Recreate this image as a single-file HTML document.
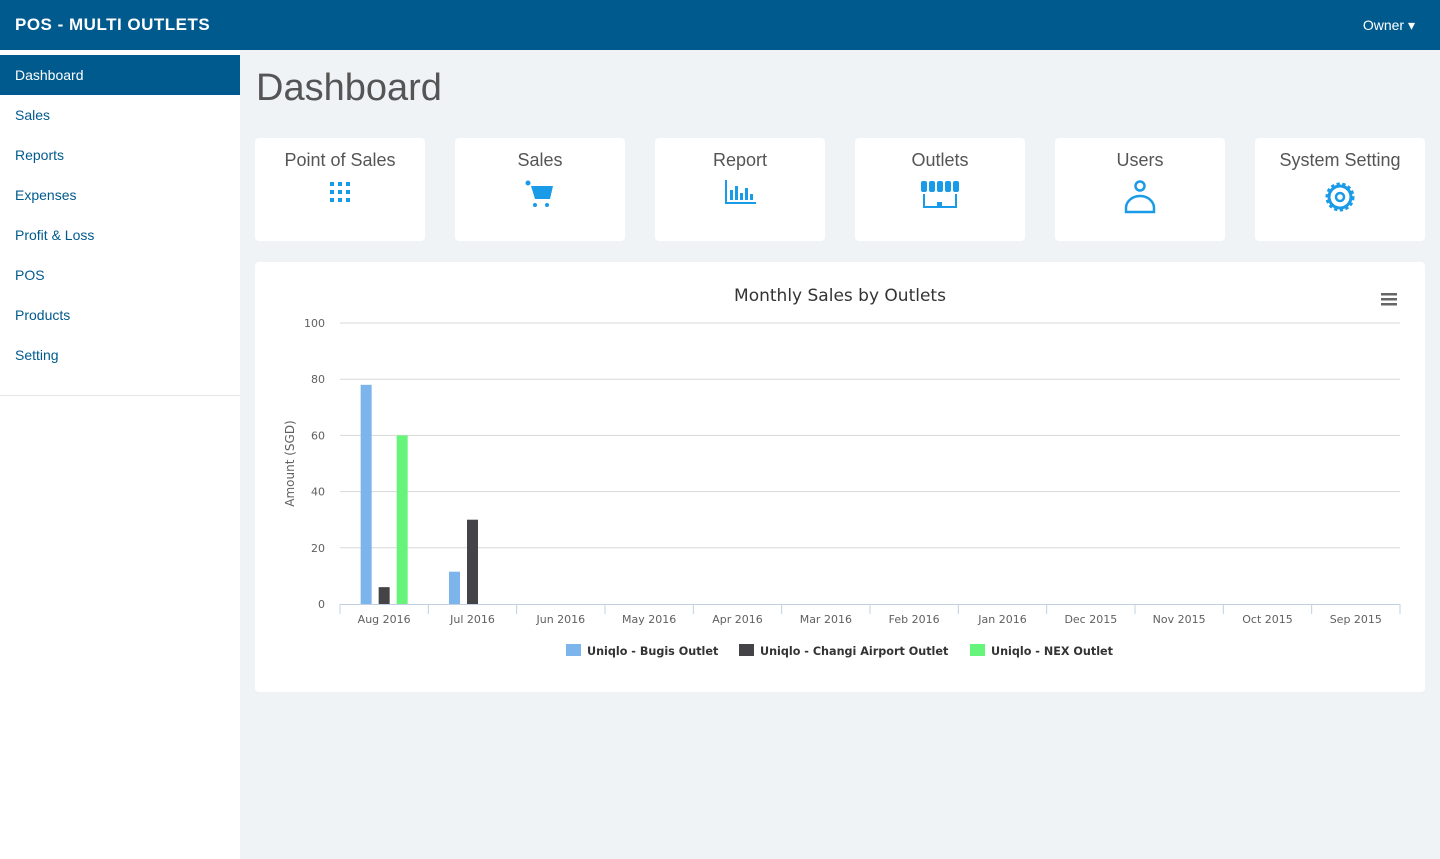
<!DOCTYPE html>
<html><head><meta charset="utf-8"><style>
*{box-sizing:border-box;margin:0;padding:0}
body{width:1440px;height:859px;background:#eff3f6;font-family:"Liberation Sans",sans-serif;position:relative;overflow:hidden}
.top{position:absolute;left:0;top:0;width:1440px;height:50px;background:#005a8e;color:#fff}
.brand{position:absolute;left:15px;top:15px;font-size:17px;font-weight:bold;letter-spacing:0.5px}
.owner{position:absolute;right:25px;top:17px;font-size:14px}
.side{position:absolute;left:0;top:50px;width:240px;height:809px;background:#fff}
.side .sep{position:absolute;left:0;top:345px;width:240px;border-top:1px solid #e5e5e5}
.nav{position:absolute;left:0;width:240px;height:40px;padding:12px 15px;font-size:14px;color:#005a8e}
.nav.act{background:#005a8e;color:#fff}
h1{position:absolute;left:256px;top:67px;font-size:38px;font-weight:normal;color:#555}
.card{position:absolute;top:138px;width:170px;height:103px;background:#fff;border-radius:4px;text-align:center;color:#555;font-size:18px;padding-top:12px}
.card svg{display:block;margin:9px auto 0}
.chart{position:absolute;left:255px;top:262px;width:1170px;height:430px;background:#fff;border-radius:4px}
</style></head><body>
<div class="top">
<div class="brand">POS - MULTI OUTLETS</div>
<div class="owner">Owner ▾</div>
</div>
<div class="side">
<div class="nav act" style="top:5px">Dashboard</div>
<div class="nav" style="top:45px">Sales</div>
<div class="nav" style="top:85px">Reports</div>
<div class="nav" style="top:125px">Expenses</div>
<div class="nav" style="top:165px">Profit &amp; Loss</div>
<div class="nav" style="top:205px">POS</div>
<div class="nav" style="top:245px">Products</div>
<div class="nav" style="top:285px">Setting</div>
<div class="sep"></div>
</div>
<h1>Dashboard</h1>

<div class="card" style="left:255px">Point of Sales
<svg width="24" height="24" viewBox="0 0 24 24" fill="#1a9be8"><rect x="2" y="2" width="4" height="4"/><rect x="10" y="2" width="4" height="4"/><rect x="18" y="2" width="4" height="4"/><rect x="2" y="10" width="4" height="4"/><rect x="10" y="10" width="4" height="4"/><rect x="18" y="10" width="4" height="4"/><rect x="2" y="18" width="4" height="4"/><rect x="10" y="18" width="4" height="4"/><rect x="18" y="18" width="4" height="4"/></svg></div>
<div class="card" style="left:455px">Sales
<svg width="30" height="28" viewBox="0 0 30 28" fill="#1a9be8"><circle cx="3" cy="3" r="2.5"/><path d="M6 6h22l-3 13H10z"/><circle cx="10" cy="25" r="2"/><circle cx="22" cy="25" r="2"/></svg></div>
<div class="card" style="left:655px">Report
<svg width="32" height="24" viewBox="0 0 32 24" fill="#1a9be8"><rect x="1" y="0" width="2" height="24"/><rect x="1" y="22" width="31" height="2"/><rect x="6" y="10" width="3" height="10"/><rect x="11" y="6" width="3" height="14"/><rect x="16" y="13" width="3" height="7"/><rect x="21" y="8" width="3" height="12"/><rect x="26" y="14" width="3" height="6"/></svg></div>
<div class="card" style="left:855px">Outlets
<svg width="40" height="30" viewBox="0 0 40 30" fill="#1a9be8"><rect x="1" y="1" width="6" height="11" rx="2"/><rect x="9" y="1" width="6" height="11" rx="2"/><rect x="17" y="1" width="6" height="11" rx="2"/><rect x="25" y="1" width="6" height="11" rx="2"/><rect x="33" y="1" width="6" height="11" rx="2"/><rect x="3" y="14" width="2" height="14"/><rect x="35" y="14" width="2" height="14"/><rect x="3" y="26" width="34" height="2"/><rect x="17" y="22" width="5" height="4"/></svg></div>
<div class="card" style="left:1055px">Users
<svg width="34" height="34" viewBox="0 0 34 34" fill="none" stroke="#1a9be8" stroke-width="2.5"><circle cx="17" cy="6" r="4.5"/><path d="M3 32v-4a14 12 0 0 1 28 0v4z"/></svg></div>
<div class="card" style="left:1255px">System Setting
<svg width="34" height="34" viewBox="0 0 34 34"><circle cx="17" cy="17" r="12" fill="none" stroke="#1a9be8" stroke-width="5" stroke-dasharray="3 2.3"/><circle cx="17" cy="17" r="11" fill="none" stroke="#1a9be8" stroke-width="3"/><circle cx="17" cy="17" r="4" fill="none" stroke="#1a9be8" stroke-width="2.5"/></svg></div>

<div class="chart">
<svg id="c" width="1170" height="430" style="font-family:'DejaVu Sans','Liberation Sans',sans-serif"></svg>
</div>
<script>
const categories=["Aug 2016","Jul 2016","Jun 2016","May 2016","Apr 2016","Mar 2016","Feb 2016","Jan 2016","Dec 2015","Nov 2015","Oct 2015","Sep 2015"];
const bugis=[78,11.5,0,0,0,0,0,0,0,0,0,0];
const changi=[6,30,0,0,0,0,0,0,0,0,0,0];
const nex=[60,0,0,0,0,0,0,0,0,0,0,0];
const yTicks=[0,20,40,60,80,100];
const seriesNames=["Uniqlo - Bugis Outlet","Uniqlo - Changi Airport Outlet","Uniqlo - NEX Outlet"];
const ns="http://www.w3.org/2000/svg",svg=document.getElementById('c');
const L=85,R=1145,T=61,B=342,yMax=100;
const y=v=>B-(v/yMax)*(B-T);
const bw=(R-L)/categories.length;
const x=i=>L+bw*i+bw/2;
function mk(t,a,txt){const e=document.createElementNS(ns,t);for(const k in a)e.setAttribute(k,a[k]);if(txt!==undefined)e.textContent=txt;svg.appendChild(e);return e;}
let e=mk('text',{x:585,y:39,'text-anchor':'middle','font-size':17,fill:'#333'},'Monthly Sales by Outlets');

const m=mk('g',{});
[31,36,41].forEach(yy=>{const r=document.createElementNS(ns,'rect');r.setAttribute('x',1126);r.setAttribute('y',yy);r.setAttribute('width',16);r.setAttribute('height',2.5);r.setAttribute('fill','#666');m.appendChild(r);});
yTicks.forEach(t=>{
 if(t>0){e=mk('line',{x1:L,x2:R,y1:y(t),y2:y(t),stroke:'#d8d8d8'});}
 e=mk('text',{x:70,y:y(t)+4,'text-anchor':'end','font-size':11,fill:'#606060'},t);
 
});
e=mk('text',{x:0,y:0,transform:`translate(39,${(T+B)/2}) rotate(-90)`,'text-anchor':'middle','font-size':12,fill:'#606060'},'Amount (SGD)');

e=mk('line',{x1:L,x2:R,y1:B+0.5,y2:B+0.5,stroke:'#c0d0e0'});
for(let i=0;i<=categories.length;i++){e=mk('line',{x1:L+bw*i,x2:L+bw*i,y1:B,y2:B+10,stroke:'#c0d0e0'});}
categories.forEach((c,i)=>{e=mk('text',{x:x(i),y:B+19,'text-anchor':'middle','font-size':11,fill:'#606060'},c);});
const series=[bugis,changi,nex],colors=['#7cb5ec','#434348','#66f57a'],offs=[-18,0,18];
series.forEach((s,si)=>s.forEach((v,i)=>{if(v<=0)return;
 e=mk('rect',{x:x(i)+offs[si]-5.5,y:y(v),width:11,height:B-y(v),fill:colors[si]});
 }));
const lx=[311,484,715];
seriesNames.forEach((n,si)=>{
 const g=mk('g',{});
 const r=document.createElementNS(ns,'rect');r.setAttribute('x',lx[si]);r.setAttribute('y',382);r.setAttribute('width',15);r.setAttribute('height',12);r.setAttribute('fill',colors[si]);g.appendChild(r);
 const t=document.createElementNS(ns,'text');t.setAttribute('x',lx[si]+21);t.setAttribute('y',393);t.setAttribute('font-size',11.2);t.setAttribute('font-weight','bold');t.setAttribute('fill','#333');t.textContent=n;g.appendChild(t);
});
</script>
</body></html>
